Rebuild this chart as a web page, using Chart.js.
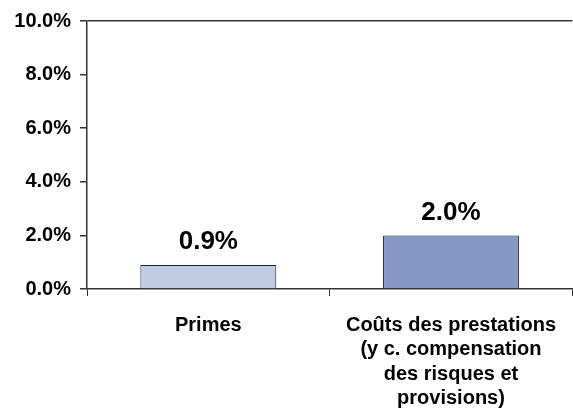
<!DOCTYPE html>
<html lang="fr">
<head>
<meta charset="UTF-8">
<title>Primes / Coûts des prestations</title>
<script src="https://cdn.jsdelivr.net/npm/chart.js@4.4.0/dist/chart.umd.min.js"></script>
<style>
    html, body { margin: 0; padding: 0; background: #ffffff; overflow: hidden; }
    #wrap { width: 573px; height: 411px; }
</style>
</head>
<body>
<div id="wrap"><canvas id="chart"></canvas></div>
<script>
    // data
    const categories = [
        ['Primes'],
        ['Coûts des prestations', '(y c. compensation', 'des risques et', 'provisions)']
    ];
    const values = [0.9, 2.0];
    const barColors = ['#c0cce4', '#8598c5'];
    const yTicks = [0, 2, 4, 6, 8, 10];

    const FONT = "'Liberation Sans', Arial, sans-serif";

    // value labels above the bars, placed from the bar elements
    const valueLabels = {
        id: 'valueLabels',
        afterDatasetsDraw(chart) {
            const ctx = chart.ctx;
            const meta = chart.getDatasetMeta(0);
            ctx.save();
            ctx.font = 'bold 26px ' + FONT;
            ctx.fillStyle = '#000';
            ctx.textAlign = 'center';
            ctx.textBaseline = 'bottom';
            meta.data.forEach((bar, i) => {
                ctx.fillText(values[i].toFixed(1) + '%', bar.x, bar.y - 10);
            });
            ctx.restore();
        }
    };

    new Chart(document.getElementById('chart'), {
        type: 'bar',
        data: {
            labels: categories,
            datasets: [{
                data: values,
                backgroundColor: barColors,
                borderColor: '#222',
                borderWidth: 1,
                borderSkipped: 'bottom',
                barPercentage: 0.56,
                categoryPercentage: 1
            }]
        },
        options: {
            responsive: true,
            maintainAspectRatio: false,
            animation: false,
            layout: { padding: { top: 12, right: 0, left: 0, bottom: 0 } },
            plugins: {
                legend: { display: false },
                tooltip: { enabled: false }
            },
            scales: {
                x: {
                    afterFit(scale) { scale.height = 122; },
                    grid: {
                        offset: true,
                        color: 'transparent',
                        tickColor: '#333',
                        tickLength: 7,
                        drawOnChartArea: false
                    },
                    border: { color: '#333', width: 1.5 },
                    ticks: {
                        color: '#000',
                        font: { family: FONT, size: 20, weight: 'bold', lineHeight: 1.22 },
                        padding: 17,
                        maxRotation: 0
                    }
                },
                y: {
                    min: 0,
                    max: 10,
                    afterFit(scale) { scale.width = 87; },
                    afterBuildTicks(axis) {
                        axis.ticks = yTicks.map(v => ({ value: v }));
                    },
                    grid: {
                        color: c => (c.tick && c.tick.value === 10 ? '#333' : 'transparent'),
                        lineWidth: 1.5,
                        tickColor: '#333',
                        tickLength: 7
                    },
                    border: { color: '#333', width: 1.5 },
                    ticks: {
                        color: '#000',
                        font: { family: FONT, size: 20, weight: 'bold' },
                        padding: 9,
                        callback: v => v.toFixed(1) + '%'
                    }
                }
            }
        },
        plugins: [valueLabels]
    });
</script>
</body>
</html>
